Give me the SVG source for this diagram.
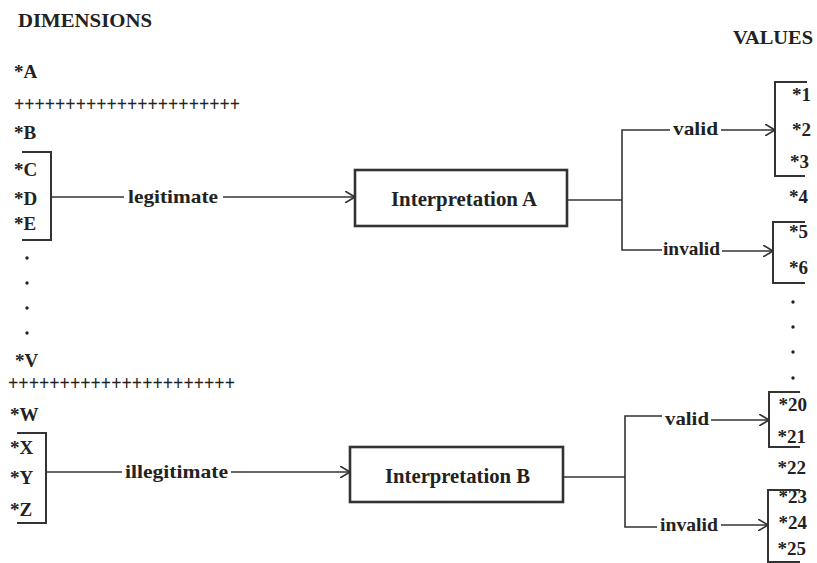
<svg xmlns="http://www.w3.org/2000/svg" width="817" height="563" viewBox="0 0 817 563">
<defs>
<style>
text{font-family:"Liberation Serif","DejaVu Serif",serif;font-weight:bold;fill:#222;font-size:19px}
.big{font-size:20px}
.plus{font-size:22px}
.ln{stroke:#333;stroke-width:1.6;fill:none}
.br{stroke:#333;stroke-width:2;fill:none}
.box{stroke:#333;stroke-width:2.6;fill:#fff}
.dot{fill:#222}
.r{text-anchor:end}
</style>
<marker id="arr" viewBox="0 0 10 12" refX="10" refY="6" markerWidth="10" markerHeight="12" markerUnits="userSpaceOnUse" orient="auto">
<path d="M0,0 L10,6 L0,12" fill="none" stroke="#333" stroke-width="1.6"/>
</marker>
</defs>
<rect width="817" height="563" fill="#fff"/>

<g id="dimensions">
<text x="18" y="27" textLength="134" lengthAdjust="spacingAndGlyphs">DIMENSIONS</text>
<text x="14" y="78">*A</text>
<text class="plus" x="14" y="111" textLength="226" lengthAdjust="spacingAndGlyphs">++++++++++++++++++++++</text>
<text x="14" y="139">*B</text>
<text x="14" y="176">*C</text>
<text x="14" y="205">*D</text>
<text x="14" y="230">*E</text>
<circle class="dot" cx="27" cy="258" r="1.7"/>
<circle class="dot" cx="27" cy="283" r="1.7"/>
<circle class="dot" cx="27" cy="308" r="1.7"/>
<circle class="dot" cx="27" cy="333" r="1.7"/>
<text x="15" y="367">*V</text>
<text class="plus" x="8" y="390" textLength="227" lengthAdjust="spacingAndGlyphs">++++++++++++++++++++++</text>
<text x="10" y="421">*W</text>
<text x="10" y="454">*X</text>
<text x="10" y="484">*Y</text>
<text x="10" y="516">*Z</text>
</g>

<g id="bracket-cde">
<path class="br" d="M22,152 H51 V240 H22"/>
</g>
<g id="bracket-xyz">
<path class="br" d="M17,433 H46 V523 H17"/>
</g>

<g id="interpretation-a">
<rect class="box" x="355" y="170" width="212" height="56"/>
<text class="big" x="391" y="206" textLength="146" lengthAdjust="spacingAndGlyphs">Interpretation A</text>
</g>
<g id="interpretation-b">
<rect class="box" x="350" y="447" width="213" height="55"/>
<text class="big" x="385" y="483" textLength="145" lengthAdjust="spacingAndGlyphs">Interpretation B</text>
</g>

<g id="values">
<text x="733" y="44" textLength="80" lengthAdjust="spacingAndGlyphs">VALUES</text>
<text class="r" x="811" y="101">*1</text>
<text class="r" x="811" y="136">*2</text>
<text class="r" x="809" y="168">*3</text>
<text class="r" x="808" y="203">*4</text>
<text class="r" x="808" y="238">*5</text>
<text class="r" x="808" y="274">*6</text>
<circle class="dot" cx="793" cy="302" r="1.7"/>
<circle class="dot" cx="793" cy="327" r="1.7"/>
<circle class="dot" cx="793" cy="352" r="1.7"/>
<circle class="dot" cx="793" cy="378" r="1.7"/>
<text class="r" x="807" y="411">*20</text>
<text class="r" x="806" y="443">*21</text>
<text class="r" x="806" y="474">*22</text>
<text class="r" x="807" y="503">*23</text>
<text class="r" x="807" y="529">*24</text>
<text class="r" x="806" y="555">*25</text>
</g>

<g id="bracket-123"><path class="br" d="M807,82 H775 V176 H805"/></g>
<g id="bracket-56"><path class="br" d="M805,222 H773 V283 H805"/></g>
<g id="bracket-2021"><path class="br" d="M800,392 H769 V447 H800"/></g>
<g id="bracket-232425"><path class="br" d="M800,490 H768 V562 H800"/></g>

<g id="connectors">
<line class="ln" x1="51" y1="197" x2="124" y2="197"/>
<text x="128" y="203" textLength="90" lengthAdjust="spacingAndGlyphs">legitimate</text>
<line class="ln" x1="223" y1="197" x2="355" y2="197" marker-end="url(#arr)"/>

<line class="ln" x1="567" y1="200" x2="622" y2="200"/>
<path class="ln" d="M670,130 H622 V250 H662"/>
<text x="673" y="135" textLength="45" lengthAdjust="spacingAndGlyphs">valid</text>
<line class="ln" x1="721" y1="130" x2="775" y2="130" marker-end="url(#arr)"/>
<text x="663" y="255" textLength="57" lengthAdjust="spacingAndGlyphs">invalid</text>
<line class="ln" x1="722" y1="251" x2="773" y2="251" marker-end="url(#arr)"/>

<line class="ln" x1="46" y1="472" x2="122" y2="472"/>
<text x="125" y="478" textLength="103" lengthAdjust="spacingAndGlyphs">illegitimate</text>
<line class="ln" x1="231" y1="472" x2="350" y2="472" marker-end="url(#arr)"/>

<line class="ln" x1="563" y1="477" x2="625" y2="477"/>
<path class="ln" d="M662,416 H625 V527 H657"/>
<text x="665" y="425" textLength="44" lengthAdjust="spacingAndGlyphs">valid</text>
<line class="ln" x1="711" y1="420" x2="769" y2="420" marker-end="url(#arr)"/>
<text x="660" y="531" textLength="58" lengthAdjust="spacingAndGlyphs">invalid</text>
<line class="ln" x1="721" y1="525" x2="768" y2="525" marker-end="url(#arr)"/>
</g>
</svg>
